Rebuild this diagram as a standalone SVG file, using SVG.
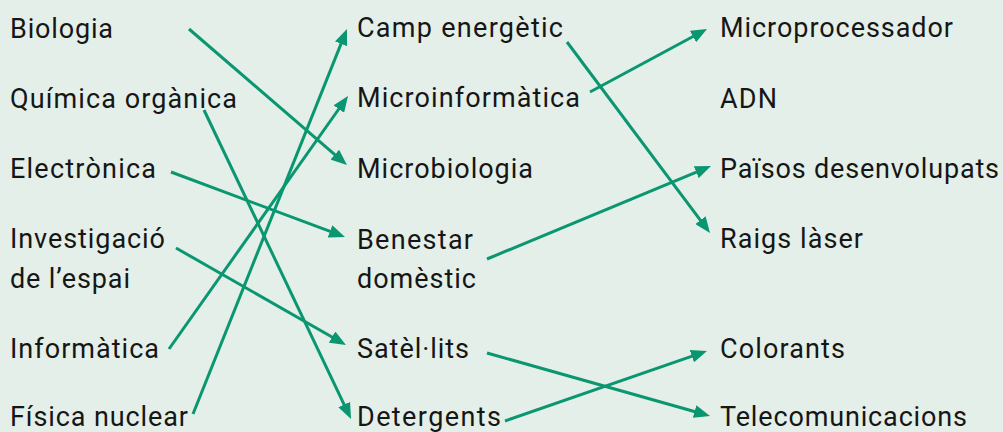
<svg xmlns="http://www.w3.org/2000/svg" width="1003" height="432" viewBox="0 0 1003 432">
<style>
.t{font-family:Roboto,"DejaVu Sans","Liberation Sans",sans-serif;font-size:27px;fill:#161616}
.c{stroke:#0a9670;stroke-width:3;fill:none;marker-end:url(#ah)}
</style>
<defs>
<marker id="ah" markerUnits="userSpaceOnUse" markerWidth="16" markerHeight="13" refX="8" refY="6.5" orient="auto" viewBox="0 0 16 13">
<path d="M0,0 L16,6.5 L0,13 z" fill="#0a9670"/>
</marker>
</defs>
<rect width="1003" height="432" fill="#e3efe8"/>
<g id="left">
<g id="n-biologia"><text class="t" x="10" y="38" textLength="103">Biologia</text></g>
<g id="n-quimica"><text class="t" x="10" y="108" textLength="227">Química orgànica</text></g>
<g id="n-electronica"><text class="t" x="10" y="178" textLength="146">Electrònica</text></g>
<g id="n-investigacio"><text class="t" x="10" y="248" textLength="155">Investigació</text><text class="t" x="10" y="288" textLength="120">de l’espai</text></g>
<g id="n-informatica"><text class="t" x="10" y="358" textLength="149">Informàtica</text></g>
<g id="n-fisica"><text class="t" x="10" y="426" textLength="178">Física nuclear</text></g>
</g>
<g id="middle">
<g id="n-camp"><text class="t" x="357" y="37" textLength="206">Camp energètic</text></g>
<g id="n-microinf"><text class="t" x="357" y="107" textLength="223">Microinformàtica</text></g>
<g id="n-microbio"><text class="t" x="357" y="178" textLength="176">Microbiologia</text></g>
<g id="n-benestar"><text class="t" x="357" y="249" textLength="116">Benestar</text><text class="t" x="357" y="288" textLength="119">domèstic</text></g>
<g id="n-satellits"><text class="t" x="357" y="358" textLength="112">Satèl·lits</text></g>
<g id="n-detergents"><text class="t" x="357" y="426" textLength="144">Detergents</text></g>
</g>
<g id="right">
<g id="n-microproc"><text class="t" x="720" y="37" textLength="233">Microprocessador</text></g>
<g id="n-adn"><text class="t" x="720" y="108" textLength="57">ADN</text></g>
<g id="n-paisos"><text class="t" x="720" y="178" textLength="279">Països desenvolupats</text></g>
<g id="n-raigs"><text class="t" x="720" y="248" textLength="143">Raigs làser</text></g>
<g id="n-colorants"><text class="t" x="720" y="358" textLength="125">Colorants</text></g>
<g id="n-telecom"><text class="t" x="720" y="426" textLength="247">Telecomunicacions</text></g>
</g>
<g id="connectors">
<line class="c" x1="189" y1="29" x2="340.9" y2="159.8"/>
<line class="c" x1="204" y1="110" x2="347.6" y2="411.8"/>
<line class="c" x1="171" y1="172" x2="337.5" y2="234.2"/>
<line class="c" x1="176" y1="248" x2="339" y2="341"/>
<line class="c" x1="169" y1="349" x2="343.4" y2="102.5"/>
<line class="c" x1="193" y1="414" x2="344" y2="36.4"/>
<line class="c" x1="567" y1="42" x2="705.2" y2="226.6"/>
<line class="c" x1="590" y1="92" x2="700" y2="32.8"/>
<line class="c" x1="487" y1="259" x2="703.6" y2="169.1"/>
<line class="c" x1="487" y1="353" x2="702.3" y2="413.8"/>
<line class="c" x1="505" y1="421" x2="699.4" y2="353.6"/>
</g>
</svg>
